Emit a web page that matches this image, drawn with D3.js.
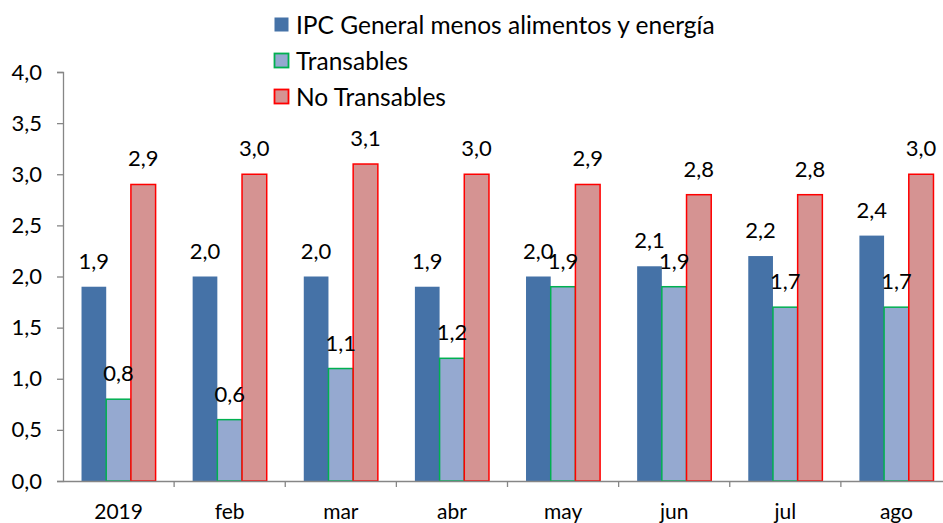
<!DOCTYPE html>
<html><head><meta charset="utf-8">
<script src="https://cdn.jsdelivr.net/npm/d3@7"></script>
<style>body{margin:0;background:#fff}svg{display:block}text{font-family:Lato,"Open Sans",sans-serif;fill:#000}</style>
</head><body><svg id="c" width="943" height="523"></svg>
<script>
const categories = ["2019","feb","mar","abr","may","jun","jul","ago"];
const ipcGeneral = [1.9,2.0,2.0,1.9,2.0,2.1,2.2,2.4];
const transables = [0.8,0.6,1.1,1.2,1.9,1.9,1.7,1.7];
const noTransables = [2.9,3.0,3.1,3.0,2.9,2.8,2.8,3.0];
const seriesNames = ["IPC General menos alimentos y energía","Transables","No Transables"];
const yTicks = [0,0.5,1,1.5,2,2.5,3,3.5,4];

(function(){
const series = [
  {name: seriesNames[0], values: ipcGeneral, fill:"#4572a7", stroke:"#4572a7"},
  {name: seriesNames[1], values: transables, fill:"#95a9d0", stroke:"#00b050"},
  {name: seriesNames[2], values: noTransables, fill:"#d59392", stroke:"#ff0000"}
];
const svg = d3.select("#c");
const mLeft = 63, mRight = 952, mTop = 72, mBottom = 481;
const x = d3.scaleBand().domain(categories).range([mLeft, mRight]).paddingInner(0).paddingOuter(0);
const y = d3.scaleLinear().domain([0,4]).range([mBottom, mTop]);
const barW = x.bandwidth() / 4.5;
const fmt = v => d3.format(".1f")(v).replace(".", ",");

// y axis
const ya = svg.append("g").attr("transform", `translate(${mLeft},0)`)
  .call(d3.axisLeft(y).tickValues(yTicks).tickSize(6).tickPadding(15).tickFormat(fmt));
ya.select(".domain").attr("stroke","#868686").attr("stroke-width",1.3);
ya.selectAll(".tick line").attr("stroke","#868686").attr("stroke-width",1.3);
ya.selectAll("text").style("font-size","22px").style("font-family","Lato, 'Open Sans', sans-serif").attr("fill","#000");

// bars
series.forEach((s, si) => {
  svg.append("g").selectAll("rect").data(s.values).join("rect")
    .attr("x", (d,i) => x(categories[i]) + x.bandwidth()/2 - 1.5*barW + si*barW)
    .attr("y", d => y(d))
    .attr("width", barW)
    .attr("height", d => mBottom - y(d))
    .attr("fill", s.fill)
    .attr("stroke", s.stroke)
    .attr("stroke-width", si === 0 ? 0 : 1.5);
});

// x axis
const xa = svg.append("g").attr("transform", `translate(0,${mBottom})`)
  .call(d3.axisBottom(x).tickSize(0).tickPadding(23));
xa.select(".domain").attr("stroke","#868686").attr("stroke-width",1.3);
xa.selectAll("text").style("font-size","21px").style("font-family","Lato, 'Open Sans', sans-serif").attr("fill","#000");
svg.append("g").selectAll("line").data(categories.slice(1)).join("line")
  .attr("x1", d => x(d)).attr("x2", d => x(d))
  .attr("y1", mBottom).attr("y2", mBottom + 6)
  .attr("stroke","#868686").attr("stroke-width",1.3);

// data labels
series.forEach((s, si) => {
  svg.append("g").selectAll("text").data(s.values).join("text")
    .attr("x", (d,i) => x(categories[i]) + x.bandwidth()/2 - 1.5*barW + si*barW + barW/2)
    .attr("y", d => y(d) - 18)
    .attr("text-anchor","middle")
    .style("font-size","22px")
    .text(d => fmt(d));
});

// legend
const lg = svg.append("g");
series.forEach((s, si) => {
  const ly = 25 + si*36;
  lg.append("rect").attr("x", 274.5).attr("y", ly - 7.5).attr("width", 14).attr("height", 14)
    .attr("fill", s.fill).attr("stroke", s.stroke).attr("stroke-width", si === 0 ? 0 : 1.8);
  lg.append("text").attr("x", 296).attr("y", ly + 8.5).style("font-size","24.5px").text(s.name);
});
})();
</script></body></html>
